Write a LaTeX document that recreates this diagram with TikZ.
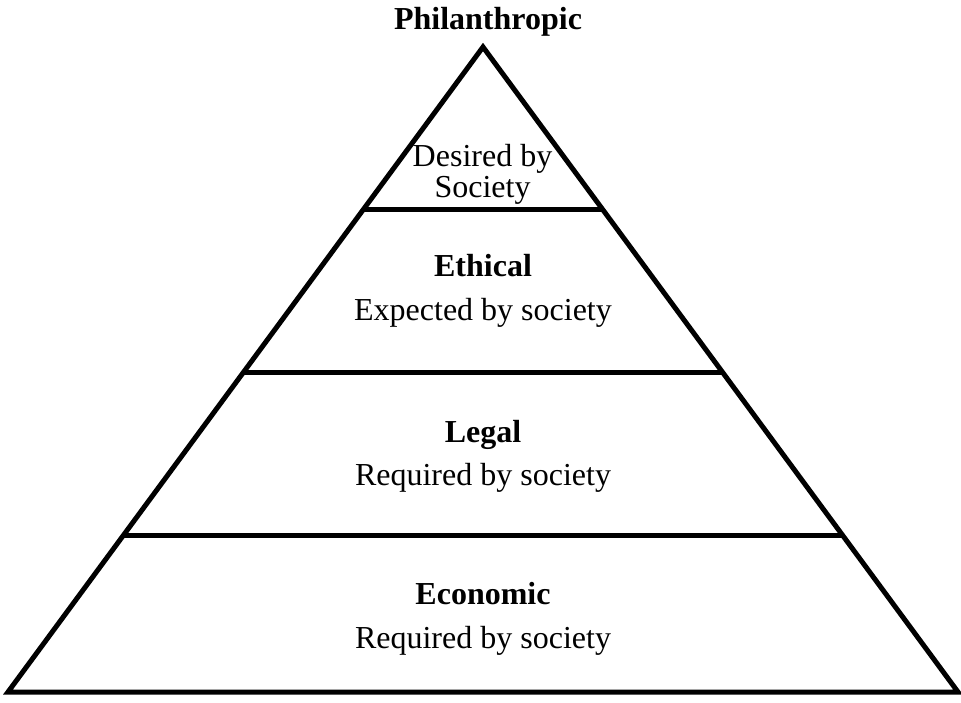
\documentclass[tikz,border=0pt]{standalone}
\usepackage{fontspec}
\setmainfont{Liberation Serif}
\usetikzlibrary{calc}
\begin{document}
\begin{tikzpicture}[x=1pt,y=-1pt,
  edge/.style={line width=5pt},
  lbl/.style={anchor=base,inner sep=0pt,font=\fontsize{32}{31}\selectfont},
  blbl/.style={anchor=base,inner sep=0pt,font=\fontsize{32}{31}\selectfont\bfseries}]
\useasboundingbox (0,0) rectangle (961,702);
\coordinate (A) at (483,47);
\coordinate (L) at (8,692);
\coordinate (R) at (958,692);
\draw[edge,line join=miter] (A) -- (L) -- (R) -- cycle;
\coordinate (l1) at ($(A)!0.2512!(L)$);
\coordinate (r1) at ($(A)!0.2512!(R)$);
\coordinate (l2) at ($(A)!0.5039!(L)$);
\coordinate (r2) at ($(A)!0.5039!(R)$);
\coordinate (l3) at ($(A)!0.7566!(L)$);
\coordinate (r3) at ($(A)!0.7566!(R)$);
\draw[edge] (l1) -- (r1);
\draw[edge] (l2) -- (r2);
\draw[edge] (l3) -- (r3);
\node[blbl] (phil) at (488,29) {Philanthropic};
\node[lbl] (des1) at (482.5,166) {Desired by};
\node[lbl] (des2) at (482.5,197) {Society};
\node[blbl] (eth) at (483,276) {Ethical};
\node[lbl] (ethd) at (483,320) {Expected by society};
\node[blbl] (leg) at (483,442) {Legal};
\node[lbl] (legd) at (483,485) {Required by society};
\node[blbl] (eco) at (483,604) {Economic};
\node[lbl] (ecod) at (483,648) {Required by society};
\end{tikzpicture}
\end{document}
